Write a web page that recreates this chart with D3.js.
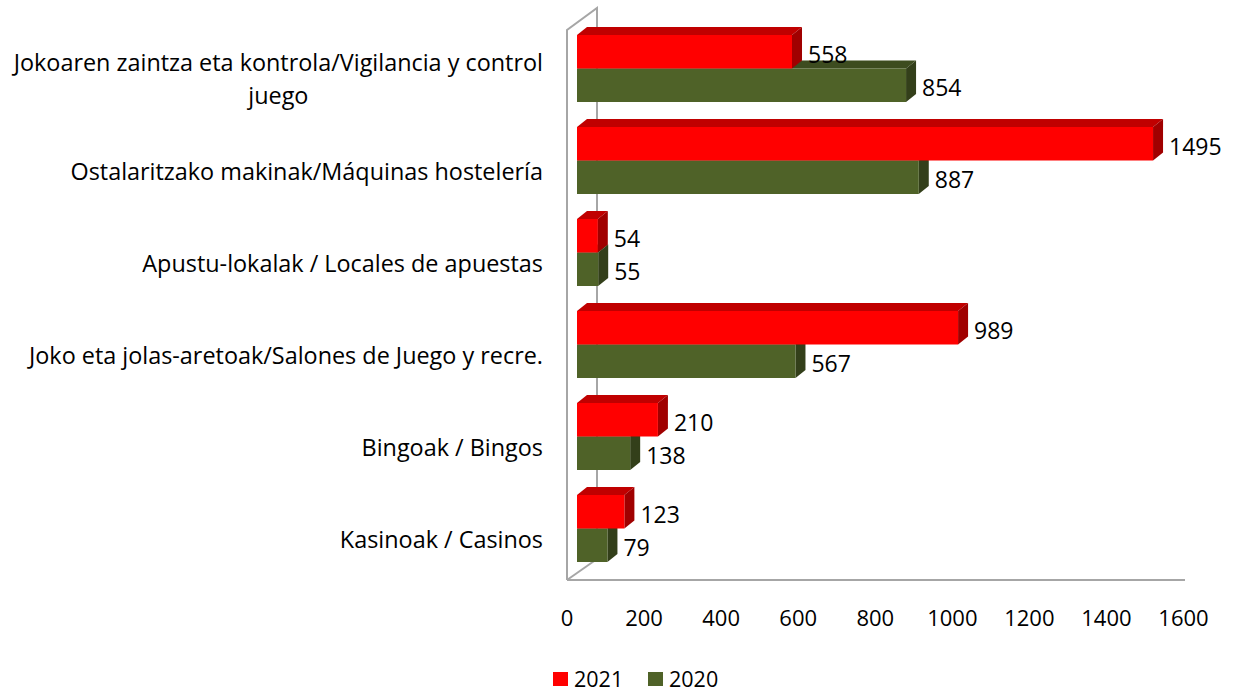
<!DOCTYPE html>
<html>
<head>
<meta charset="utf-8">
<script src="https://cdn.jsdelivr.net/npm/d3@7"></script>
<style>
  html, body { margin: 0; padding: 0; background: #fff; }
  svg { display: block; }
  text { font-family: "Open Sans", sans-serif; fill: #000; }
</style>
</head>
<body>
<svg id="chart" width="1238" height="693"></svg>
<script>
// ---- data ----
const categories = [
  "Jokoaren zaintza eta kontrola/Vigilancia y control juego",
  "Ostalaritzako makinak/Máquinas hostelería",
  "Apustu-lokalak / Locales de apuestas",
  "Joko eta jolas-aretoak/Salones de Juego y recre.",
  "Bingoak / Bingos",
  "Kasinoak / Casinos"
];
const categoryLines = [
  ["Jokoaren zaintza eta kontrola/Vigilancia y control", "juego"],
  ["Ostalaritzako makinak/Máquinas hostelería"],
  ["Apustu-lokalak / Locales de apuestas"],
  ["Joko eta jolas-aretoak/Salones de Juego y recre."],
  ["Bingoak / Bingos"],
  ["Kasinoak / Casinos"]
];
const seriesNames = ["2021", "2020"];
const values2021 = [558, 1495, 54, 989, 210, 123];
const values2020 = [854, 887, 55, 567, 138, 79];
const tickValues = [0, 200, 400, 600, 800, 1000, 1200, 1400, 1600];

const colors = {
  "2021": { front: "#FF0000", top: "#C00000", side: "#A00000" },
  "2020": { front: "#4F6228", top: "#3D4C1F", side: "#333F1A" }
};

// ---- layout ----
const svg = d3.select("#chart");
const FS_CAT = 23.4, FS_VAL = 23, FS_TICK = 22, FS_LEG = 21.5;
const axisX0 = 567;
const floorY = 580;
const barDX = 10, barDY = 8;
const wallDX = 30, wallDY = 21;

const x = d3.scaleLinear().domain([0, 1600]).range([axisX0, axisX0 + 616.5]);
const y = d3.scaleBand().domain(categories).range([22.5, 574.5])
  .paddingInner(25 / 92).paddingOuter(12.5 / 92);
const ySub = d3.scaleBand().domain(seriesNames).range([0, y.bandwidth()]);

// ---- walls / floor ----
const wall = svg.append("g").attr("stroke", "#A6A6A6").attr("stroke-width", 2).attr("fill", "none");
const wallTop = 30;
wall.append("path").attr("d",
  `M${axisX0},${floorY} L${axisX0},${wallTop} L${axisX0 + wallDX},${wallTop - wallDY - 1} L${axisX0 + wallDX},${floorY - wallDY}`);
wall.append("path").attr("d",
  `M${axisX0},${floorY} L${axisX0 + wallDX},${floorY - wallDY}`);
wall.append("path").attr("d",
  `M${axisX0},${floorY} L${x(1600) + 1.5},${floorY}`);

// ---- tick labels ----
svg.append("g").selectAll("text").data(tickValues).join("text")
  .attr("x", d => x(d))
  .attr("y", 617)
  .attr("text-anchor", "middle")
  .attr("dominant-baseline", "central")
  .attr("font-size", FS_TICK)
  .text(d => d);

// ---- bars ----
const rows = [];
categories.forEach((c, i) => rows.push({ cat: c, s: "2020", v: values2020[i] }));
categories.forEach((c, i) => rows.push({ cat: c, s: "2021", v: values2021[i] }));

const bx0 = x(0) + barDX;
const barG = svg.append("g");
rows.forEach(r => {
  const y0 = y(r.cat) + ySub(r.s);
  const h = ySub.bandwidth();
  const x1 = bx0 + (x(r.v) - x(0));
  const c = colors[r.s];
  const g = barG.append("g");
  g.append("path").attr("fill", c.top)
    .attr("d", `M${bx0},${y0} L${bx0 + barDX},${y0 - barDY} L${x1 + barDX},${y0 - barDY} L${x1},${y0} Z`);
  g.append("path").attr("fill", c.side)
    .attr("d", `M${x1},${y0} L${x1 + barDX},${y0 - barDY} L${x1 + barDX},${y0 + h - barDY} L${x1},${y0 + h} Z`);
  g.append("rect").attr("fill", c.front)
    .attr("x", bx0).attr("y", y0).attr("width", x1 - bx0).attr("height", h);
});

// ---- value labels ----
svg.append("g").selectAll("text").data(rows).join("text")
  .attr("x", d => bx0 + (x(d.v) - x(0)) + barDX + 6)
  .attr("y", d => y(d.cat) + ySub(d.s) + ySub.bandwidth() / 2 + 2)
  .attr("dominant-baseline", "central")
  .attr("font-size", FS_VAL)
  .text(d => d.v);

// ---- category labels ----
const labelRight = 543;
const catG = svg.append("g");
categories.forEach((c, i) => {
  const lines = categoryLines[i];
  const cy = y(c) + y.bandwidth() / 2 + 10;
  const lh = 33;
  const startY = cy - (lines.length - 1) * lh / 2;
  const first = catG.append("text")
    .attr("x", labelRight).attr("y", startY)
    .attr("text-anchor", "end").attr("dominant-baseline", "central")
    .attr("font-size", FS_CAT).text(lines[0]);
  const w = first.node().getComputedTextLength();
  for (let k = 1; k < lines.length; k++) {
    catG.append("text")
      .attr("x", labelRight - w / 2).attr("y", startY + k * lh)
      .attr("text-anchor", "middle").attr("dominant-baseline", "central")
      .attr("font-size", FS_CAT).text(lines[k]);
  }
});

// ---- legend ----
const legend = svg.append("g");
const legendItems = [
  { name: "2021", sx: 553, tx: 574 },
  { name: "2020", sx: 648, tx: 669 }
];
legend.selectAll("rect").data(legendItems).join("rect")
  .attr("x", d => d.sx).attr("y", 672).attr("width", 15).attr("height", 14)
  .attr("fill", d => colors[d.name].front);
legend.selectAll("text").data(legendItems).join("text")
  .attr("x", d => d.tx).attr("y", 678)
  .attr("dominant-baseline", "central")
  .attr("font-size", FS_LEG)
  .text(d => d.name);
</script>
</body>
</html>
